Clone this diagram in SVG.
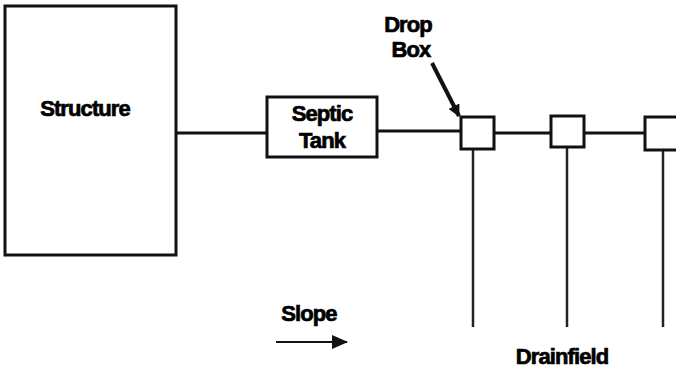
<svg xmlns="http://www.w3.org/2000/svg" width="676" height="369" viewBox="0 0 676 369">
<style>
.box{fill:#fff;stroke:#111;stroke-width:3}
.pipe{stroke:#111;stroke-width:3;fill:none}
.lat{stroke:#222;stroke-width:2.5;fill:none}
text{font-family:"Liberation Sans",Arial,sans-serif;font-weight:bold;font-size:22px;fill:#000;stroke:#000;stroke-width:0.7;text-anchor:middle;letter-spacing:-0.9px}
</style>
<defs>
<marker id="ah" markerWidth="12" markerHeight="12" refX="11" refY="6" orient="auto" markerUnits="userSpaceOnUse" viewBox="0 0 12 12">
<path d="M0,0 L12,6 L0,12 z" fill="#111"/>
</marker>
<marker id="ah2" markerWidth="16" markerHeight="14" refX="15" refY="7" orient="auto" markerUnits="userSpaceOnUse" viewBox="0 0 16 14">
<path d="M0,0 L16,7 L0,14 z" fill="#111"/>
</marker>
</defs>
<g id="connectors">
<line class="pipe" x1="176" y1="133" x2="267" y2="133"/>
<line class="pipe" x1="377" y1="131" x2="461" y2="131"/>
<line class="pipe" x1="490" y1="133" x2="551" y2="133"/>
<line class="pipe" x1="584" y1="133" x2="645" y2="133"/>
<line class="lat" x1="473" y1="149" x2="473" y2="327"/>
<line class="lat" x1="567" y1="147" x2="567" y2="327"/>
<line class="lat" x1="663" y1="150" x2="663" y2="327"/>
<line stroke="#111" stroke-width="4" x1="432" y1="63" x2="459" y2="116" marker-end="url(#ah)"/>
<line stroke="#111" stroke-width="2" x1="276" y1="342" x2="347" y2="342" marker-end="url(#ah2)"/>
</g>
<g id="structure">
<rect class="box" x="5" y="6" width="171" height="249"/>
<text x="85" y="116">Structure</text>
</g>
<g id="septic-tank">
<rect class="box" x="267" y="97" width="110" height="60"/>
<text x="322" y="121">Septic</text>
<text x="322" y="148">Tank</text>
</g>
<g id="drop-box-1">
<rect class="box" x="461" y="117" width="33" height="32"/>
</g>
<g id="drop-box-2">
<rect class="box" x="551" y="116" width="33" height="31"/>
</g>
<g id="drop-box-3">
<rect class="box" x="645" y="117" width="40" height="33"/>
</g>
<g id="labels">
<text x="408" y="32">Drop</text>
<text x="411" y="57">Box</text>
<text x="309" y="321">Slope</text>
<text x="562" y="364">Drainfield</text>
</g>
</svg>
